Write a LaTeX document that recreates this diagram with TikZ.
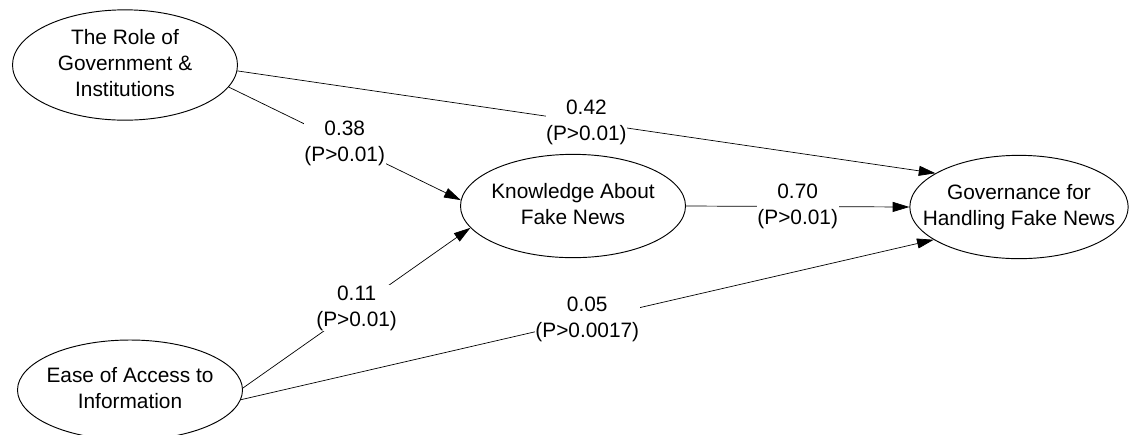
\documentclass[tikz,border=0pt]{standalone}
\usepackage{fontspec}
\setmainfont{Liberation Sans}
\usetikzlibrary{shapes.geometric,arrows.meta}

\tikzset{
    latent/.style={draw=black,line width=0.8pt,ellipse,inner sep=0pt,minimum width=6.75cm,minimum height=3.1cm},
    coef/.style={fill=white,inner sep=0.5pt,align=center},
    arr/.style={draw=black,line width=0.6pt,-{Triangle[length=0.5cm,width=0.3cm]}}
}

\begin{document}
\begin{tikzpicture}[x=0.03cm,y=-0.03cm,font=\fontsize{17.8}{22.2}\selectfont]
        \useasboundingbox (0,0) rectangle (1129,434);

        \node[latent,minimum height=3.2cm] (role) at (125,65) {\makebox[0pt]{\begin{tabular}{@{}c@{}}The Role of\\Government \&\\Institutions\end{tabular}}};
        \node[latent] (know) at (573,206) {\makebox[0pt]{\begin{tabular}{@{}c@{}}Knowledge About\\Fake News\end{tabular}}};
        \node[latent,minimum width=6.55cm] (gov) at (1019,207) {\makebox[0pt]{\begin{tabular}{@{}c@{}}Governance for\\Handling Fake News\end{tabular}}};
        \node[latent,minimum height=3cm] (ease) at (130,390) {\makebox[0pt]{\begin{tabular}{@{}c@{}}Ease of Access to\\Information\end{tabular}}};

        \path (role.-3) edge[arr] node[coef] {0.42\\(P>0.01)} (gov.158);
        \path (role.-12) edge[arr] node[coef] {0.38\\(P>0.01)} (know.177);
        \path (know.east) edge[arr] node[coef] {0.70\\(P>0.01)} (gov.west);
        \path (ease.1) edge[arr] node[coef] {0.11\\(P>0.01)} (know.192);
        \path (ease.-5) edge[arr] node[coef] {0.05\\(P>0.0017)} (gov.201);
    \end{tikzpicture}
\end{document}
